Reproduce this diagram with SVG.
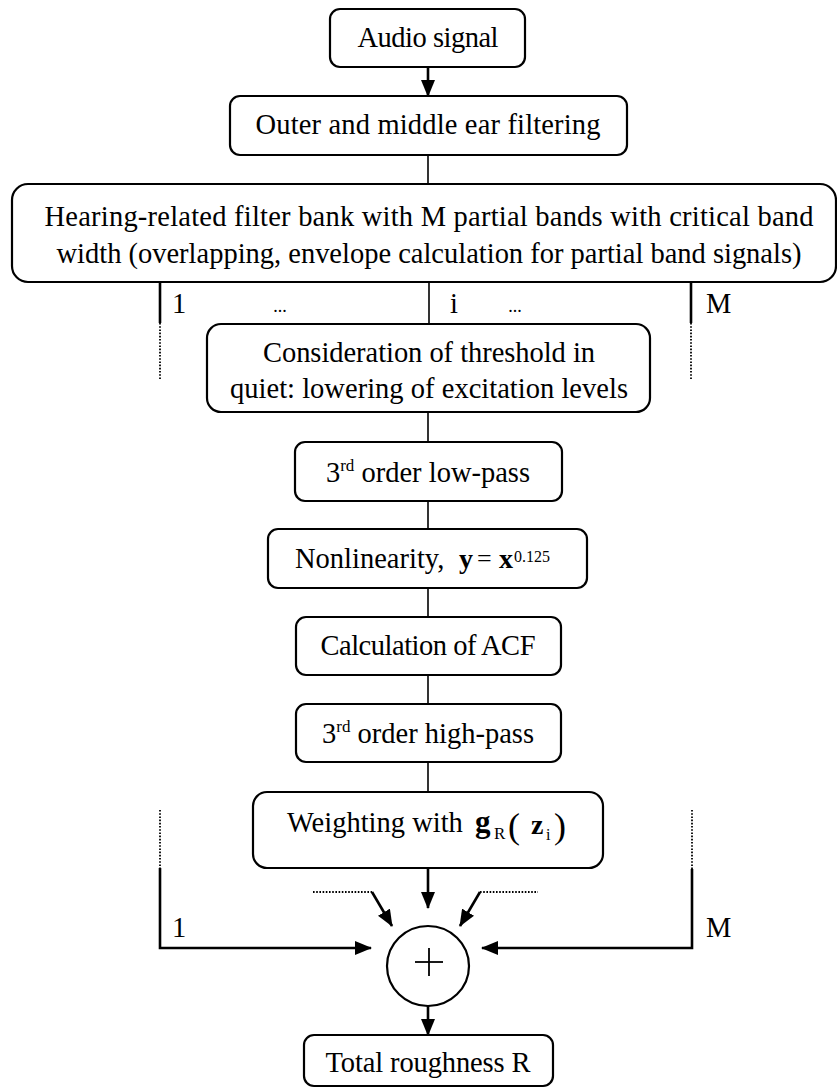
<svg xmlns="http://www.w3.org/2000/svg" width="837" height="1088" viewBox="0 0 837 1088">
  <style>
    text { font-family: "Liberation Serif", "Times New Roman", serif; fill: #000000; }
    .box { fill: #ffffff; stroke: #000000; stroke-width: 2.2; }
    .lbl { font-size: 28.5px; }
    .mid { text-anchor: middle; }
    .b { font-weight: bold; }
    .wire { stroke: #000000; stroke-width: 1.6; fill: none; }
    .bus { stroke: #000000; stroke-width: 2.6; fill: none; }
    .dot { stroke: #000000; stroke-width: 1.8; fill: none; stroke-dasharray: 1.6 1.6; }
    .arr { stroke: #000000; stroke-width: 2.6; fill: none; marker-end: url(#head); }
  </style>
  <defs>
    <marker id="head" markerUnits="userSpaceOnUse" viewBox="0 0 17 14" markerWidth="17" markerHeight="14" refX="16" refY="7" orient="auto">
      <path d="M0,0 L17,7 L0,14 z" fill="#000000"/>
    </marker>
  </defs>
  <rect width="837" height="1088" fill="#ffffff"/>

  <!-- connectors -->
  <g id="connectors">
    <line class="arr" x1="428" y1="67" x2="428" y2="96"/>
    <line class="wire" x1="428" y1="155" x2="428" y2="184"/>
    <!-- band outputs of the filter bank -->
    <line class="bus" x1="160" y1="282" x2="160" y2="323"/>
    <line class="dot" x1="160" y1="323" x2="160" y2="380"/>
    <line class="wire" x1="429" y1="282" x2="429" y2="324"/>
    <line class="bus" x1="691" y1="282" x2="691" y2="323"/>
    <line class="dot" x1="691" y1="323" x2="691" y2="380"/>
    <!-- processing chain of band i -->
    <line class="wire" x1="428" y1="412" x2="428" y2="442"/>
    <line class="wire" x1="428" y1="501" x2="428" y2="529"/>
    <line class="wire" x1="428" y1="588" x2="428" y2="617"/>
    <line class="wire" x1="428" y1="675" x2="428" y2="704"/>
    <line class="wire" x1="428" y1="762" x2="428" y2="792"/>
    <!-- summation inputs -->
    <line class="arr" x1="428" y1="868" x2="428" y2="908"/>
    <line class="dot" x1="313" y1="892" x2="372" y2="892"/>
    <line class="dot" x1="480" y1="892" x2="538" y2="892"/>
    <line class="arr" x1="372" y1="892" x2="392" y2="926"/>
    <line class="arr" x1="480" y1="892" x2="460" y2="926"/>
    <line class="dot" x1="160" y1="810" x2="160" y2="868"/>
    <polyline class="arr" points="160,868 160,948 371,948"/>
    <line class="dot" x1="692" y1="810" x2="692" y2="869"/>
    <polyline class="arr" points="692,869 692,948 482,948"/>
    <line class="arr" x1="428" y1="1006" x2="428" y2="1035"/>
  </g>

  <!-- band labels -->
  <g id="band-labels">
    <text class="lbl" x="172" y="313">1</text>
    <text class="mid" x="280" y="312" font-size="18">...</text>
    <text class="lbl mid" x="454" y="313">i</text>
    <text class="mid" x="515" y="312" font-size="18">...</text>
    <text class="lbl" x="706" y="313">M</text>
    <text class="lbl" x="172" y="937">1</text>
    <text class="lbl" x="706" y="937">M</text>
  </g>

  <g id="audio-signal">
    <rect class="box" x="330" y="9" width="195" height="58" rx="10"/>
    <text class="lbl mid" x="428" y="47" textLength="141">Audio signal</text>
  </g>

  <g id="outer-middle-ear">
    <rect class="box" x="230" y="96" width="397" height="59" rx="10"/>
    <text class="lbl mid" x="428" y="134" textLength="345">Outer and middle ear filtering</text>
  </g>

  <g id="filter-bank">
    <rect class="box" x="12" y="184" width="824" height="98" rx="16"/>
    <text class="lbl mid" x="429" y="226" textLength="769">Hearing-related filter bank with M partial bands with critical band</text>
    <text class="lbl mid" x="429" y="263" textLength="745">width (overlapping, envelope calculation for partial band signals)</text>
  </g>

  <g id="threshold-in-quiet">
    <rect class="box" x="207" y="324" width="443" height="88" rx="14"/>
    <text class="lbl mid" x="429" y="362" textLength="332">Consideration of threshold in</text>
    <text class="lbl mid" x="429" y="398" textLength="398">quiet: lowering of excitation levels</text>
  </g>

  <g id="low-pass">
    <rect class="box" x="295" y="442" width="267" height="59" rx="10"/>
    <text class="lbl mid" x="428" y="482">3<tspan font-size="17" dy="-11">rd</tspan><tspan dy="11"> order low-pass</tspan></text>
  </g>

  <g id="nonlinearity">
    <rect class="box" x="268" y="529" width="319" height="59" rx="10"/>
    <text class="lbl" x="295" y="568">Nonlinearity,</text>
    <text class="b" x="459" y="568" font-size="28">y</text>
    <text x="477" y="567" font-size="26">=</text>
    <text class="b" x="499" y="568" font-size="28">x</text>
    <text x="514" y="562" font-size="16">0.125</text>
  </g>

  <g id="acf">
    <rect class="box" x="296" y="617" width="265" height="58" rx="10"/>
    <text class="lbl mid" x="428" y="655" textLength="215">Calculation of ACF</text>
  </g>

  <g id="high-pass">
    <rect class="box" x="296" y="704" width="265" height="58" rx="10"/>
    <text class="lbl mid" x="428" y="743">3<tspan font-size="17" dy="-11">rd</tspan><tspan dy="11"> order high-pass</tspan></text>
  </g>

  <g id="weighting">
    <rect class="box" x="253" y="792" width="350" height="76" rx="14"/>
    <text class="lbl" x="287" y="832">Weighting with</text>
    <text class="b" x="475" y="832" font-size="31">g</text>
    <text x="494" y="839" font-size="17">R</text>
    <text x="508" y="838" font-size="36">(</text>
    <text class="b" x="531" y="834" font-size="28">z</text>
    <text x="546" y="840" font-size="16">i</text>
    <text x="554" y="838" font-size="36">)</text>
  </g>

  <g id="summation">
    <ellipse class="box" cx="428" cy="966" rx="41" ry="40"/>
    <line x1="415" y1="962" x2="443" y2="962" stroke="#000000" stroke-width="1.8"/>
    <line x1="429" y1="948" x2="429" y2="976" stroke="#000000" stroke-width="1.8"/>
  </g>

  <g id="total-roughness">
    <rect class="box" x="304" y="1035" width="249" height="51" rx="10"/>
    <text class="lbl mid" x="428" y="1072" textLength="205">Total roughness R</text>
  </g>
</svg>
